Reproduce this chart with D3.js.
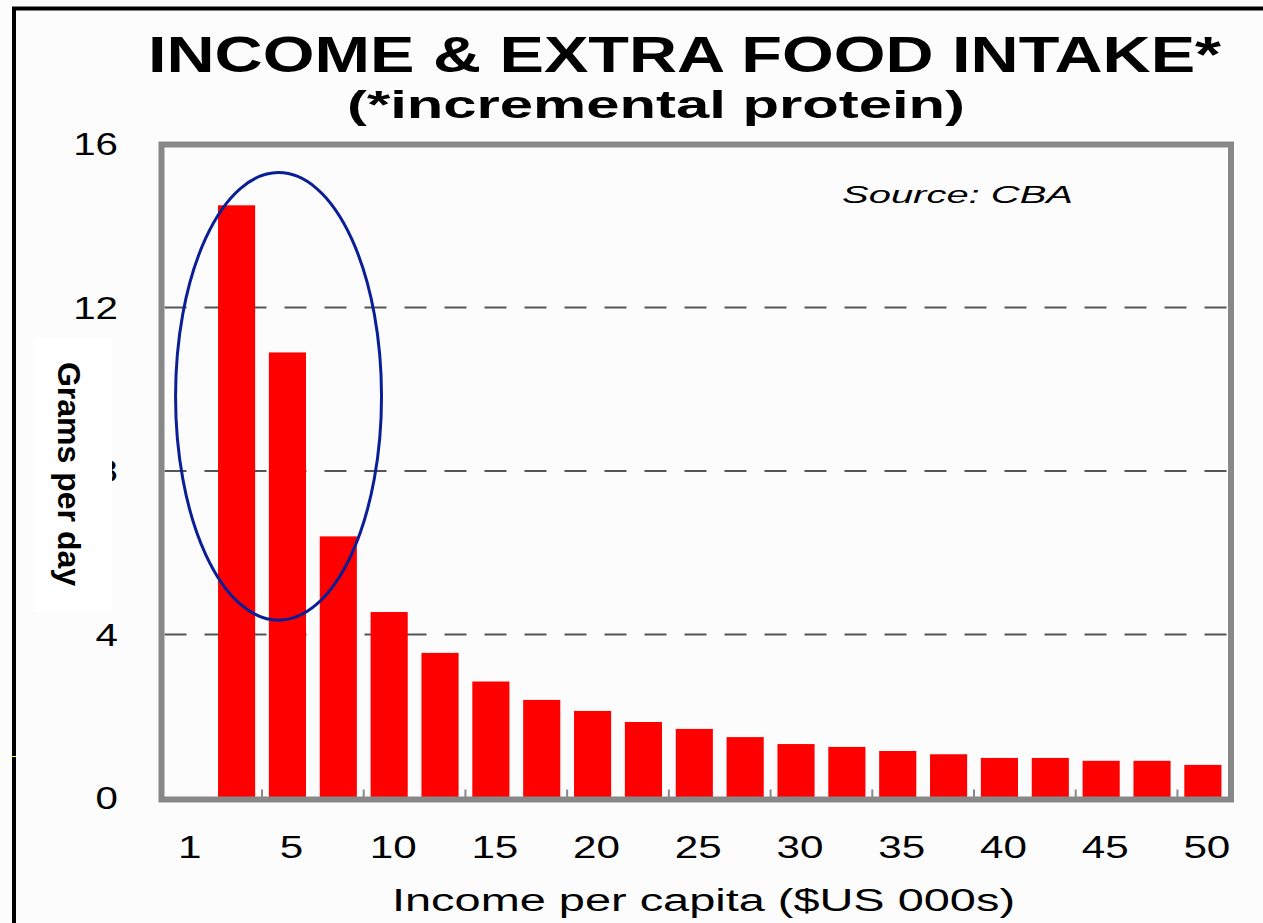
<!DOCTYPE html>
<html>
<head>
<meta charset="utf-8">
<script src="https://cdn.jsdelivr.net/npm/d3@7"></script>
<style>
  html, body { margin: 0; padding: 0; background: #fcfcfc; }
  svg { display: block; }
  text { font-family: "Liberation Sans", Arial, Helvetica, sans-serif; fill: #000; }
</style>
</head>
<body>
<svg id="chart" width="1263" height="923"></svg>
<script>
// Income brackets ($US 000s); the first slot only carries the "1" axis label
const incomeCategories = ["1", "2.5", "5", "7.5", "10", "12.5", "15", "17.5", "20", "22.5", "25",
  "27.5", "30", "32.5", "35", "37.5", "40", "42.5", "45", "47.5", "50"];
// Incremental protein intake, grams per day
const proteinGrams = [null, 14.5, 10.9, 6.4, 4.55, 3.55, 2.85, 2.4, 2.13, 1.86, 1.69,
  1.49, 1.32, 1.25, 1.15, 1.07, 0.98, 0.98, 0.91, 0.91, 0.81];
const yTickValues = [0, 4, 8, 12, 16];
const gridValues = [4, 8, 12];
// Highlighted group: category-index span and value span of the ring
const ringIndexSpan = [-0.2, 3.85];
const ringValueSpan = [4.35, 15.3];

const titleText = "INCOME & EXTRA FOOD INTAKE*";
const subtitleText = "(*incremental protein)";
const sourceText = "Source: CBA";
const xTitle = "Income per capita ($US 000s)";
const yTitle = "Grams per day";

const svg = d3.select("#chart");
const W = 1263, H = 923;

// Plot frame edges (stroke centres)
const frame = { left: 161.5, top: 144.5, right: 1231, bottom: 799.5, stroke: 6 };

const x = d3.scaleBand()
  .domain(incomeCategories)
  .range([160.3, 1228.3])
  .paddingInner(0.27)
  .paddingOuter(0.135);

const y = d3.scaleLinear().domain([0, 16]).range([798, 144]);

const xIndex = d3.scaleLinear()
  .domain([0, incomeCategories.length - 1])
  .range([x(incomeCategories[0]) + x.bandwidth() / 2,
          x(incomeCategories[incomeCategories.length - 1]) + x.bandwidth() / 2]);

// Page background
svg.append("rect").attr("width", W).attr("height", H).attr("fill", "#fcfcfc");

// Outer black border (runs off the right and bottom of the page)
svg.append("rect")
  .attr("x", 14).attr("y", 8.5)
  .attr("width", W + 20).attr("height", H + 20)
  .attr("fill", "none").attr("stroke", "#000").attr("stroke-width", 4);
svg.append("line")
  .attr("x1", 12).attr("x2", 16).attr("y1", 756.5).attr("y2", 756.5)
  .attr("stroke", "#ffff00").attr("stroke-width", 1);

// Title and subtitle
svg.append("text")
  .attr("x", 148).attr("y", 72)
  .attr("textLength", 1073).attr("lengthAdjust", "spacingAndGlyphs")
  .style("font-size", "50px").style("font-weight", "bold")
  .text(titleText);
svg.append("text")
  .attr("x", 347).attr("y", 118)
  .attr("textLength", 618).attr("lengthAdjust", "spacingAndGlyphs")
  .style("font-size", "39px").style("font-weight", "bold")
  .text(subtitleText);

// Dashed gridlines
svg.append("g").selectAll("line")
  .data(gridValues)
  .join("line")
  .attr("x1", frame.left + frame.stroke / 2).attr("x2", frame.right - frame.stroke / 2)
  .attr("y1", d => y(d)).attr("y2", d => y(d))
  .attr("stroke", "#555").attr("stroke-width", 2)
  .attr("stroke-dasharray", "22 18");

// Bars
svg.append("g").selectAll("rect")
  .data(incomeCategories.map((c, i) => ({ c, v: proteinGrams[i] })).filter(d => d.v != null))
  .join("rect")
  .attr("x", d => x(d.c))
  .attr("width", x.bandwidth())
  .attr("y", d => y(d.v))
  .attr("height", d => y(0) - y(d.v))
  .attr("fill", "#ff0000");

// Small ticks between every other category along the base
const tickBounds = d3.range(2, incomeCategories.length, 2);
svg.append("g").selectAll("line")
  .data(tickBounds)
  .join("line")
  .attr("x1", d => xIndex(d - 0.5)).attr("x2", d => xIndex(d - 0.5))
  .attr("y1", frame.bottom).attr("y2", frame.bottom - 10)
  .attr("stroke", "#888").attr("stroke-width", 2);

// Plot frame
svg.append("rect")
  .attr("x", frame.left).attr("y", frame.top)
  .attr("width", frame.right - frame.left).attr("height", frame.bottom - frame.top)
  .attr("fill", "none").attr("stroke", "#888").attr("stroke-width", frame.stroke);

// Source note
svg.append("text")
  .attr("x", 842).attr("y", 203)
  .attr("textLength", 231).attr("lengthAdjust", "spacingAndGlyphs")
  .style("font-size", "24px").style("font-style", "italic")
  .text(sourceText);

// Ring around the low-income group
svg.append("ellipse")
  .attr("cx", (xIndex(ringIndexSpan[0]) + xIndex(ringIndexSpan[1])) / 2)
  .attr("cy", (y(ringValueSpan[0]) + y(ringValueSpan[1])) / 2)
  .attr("rx", Math.abs(xIndex(ringIndexSpan[1]) - xIndex(ringIndexSpan[0])) / 2)
  .attr("ry", Math.abs(y(ringValueSpan[0]) - y(ringValueSpan[1])) / 2)
  .attr("fill", "none").attr("stroke", "#0a1e96").attr("stroke-width", 3);

// X axis labels (every other category)
const xAxis = d3.axisBottom(x)
  .tickValues(incomeCategories.filter((d, i) => i % 2 === 0))
  .tickSize(0).tickPadding(0);
const gx = svg.append("g").attr("transform", `translate(4, 858)`).call(xAxis);
gx.select(".domain").remove();
gx.selectAll("text")
  .attr("y", 0).attr("dy", 0)
  .attr("transform", "scale(1.32,1)")
  .style("font-size", "32px").style("font-family", "'Liberation Sans', Arial, sans-serif")
  .attr("fill", "#000");

// Y axis labels
const gy = svg.append("g").attr("transform", "translate(118,0)");
gy.selectAll("g")
  .data(yTickValues)
  .join("g")
  .attr("transform", d => `translate(0,${y(d)})`)
  .append("text")
  .attr("text-anchor", "end")
  .attr("dy", "0.36em")
  .attr("transform", "scale(1.3,1)")
  .style("font-size", "31px")
  .text(d => d);

// Axis titles
svg.append("text")
  .attr("x", 392).attr("y", 911)
  .attr("textLength", 623).attr("lengthAdjust", "spacingAndGlyphs")
  .style("font-size", "31px")
  .text(xTitle);

// White label box for the vertical title (sits over the left axis labels)
svg.append("rect")
  .attr("x", 33).attr("y", 338).attr("width", 79).attr("height", 274)
  .attr("fill", "#ffffff");
svg.append("text")
  .attr("transform", "translate(58,474) rotate(90)")
  .attr("text-anchor", "middle")
  .style("font-size", "32px").style("font-weight", "bold")
  .text(yTitle);
</script>
</body>
</html>
